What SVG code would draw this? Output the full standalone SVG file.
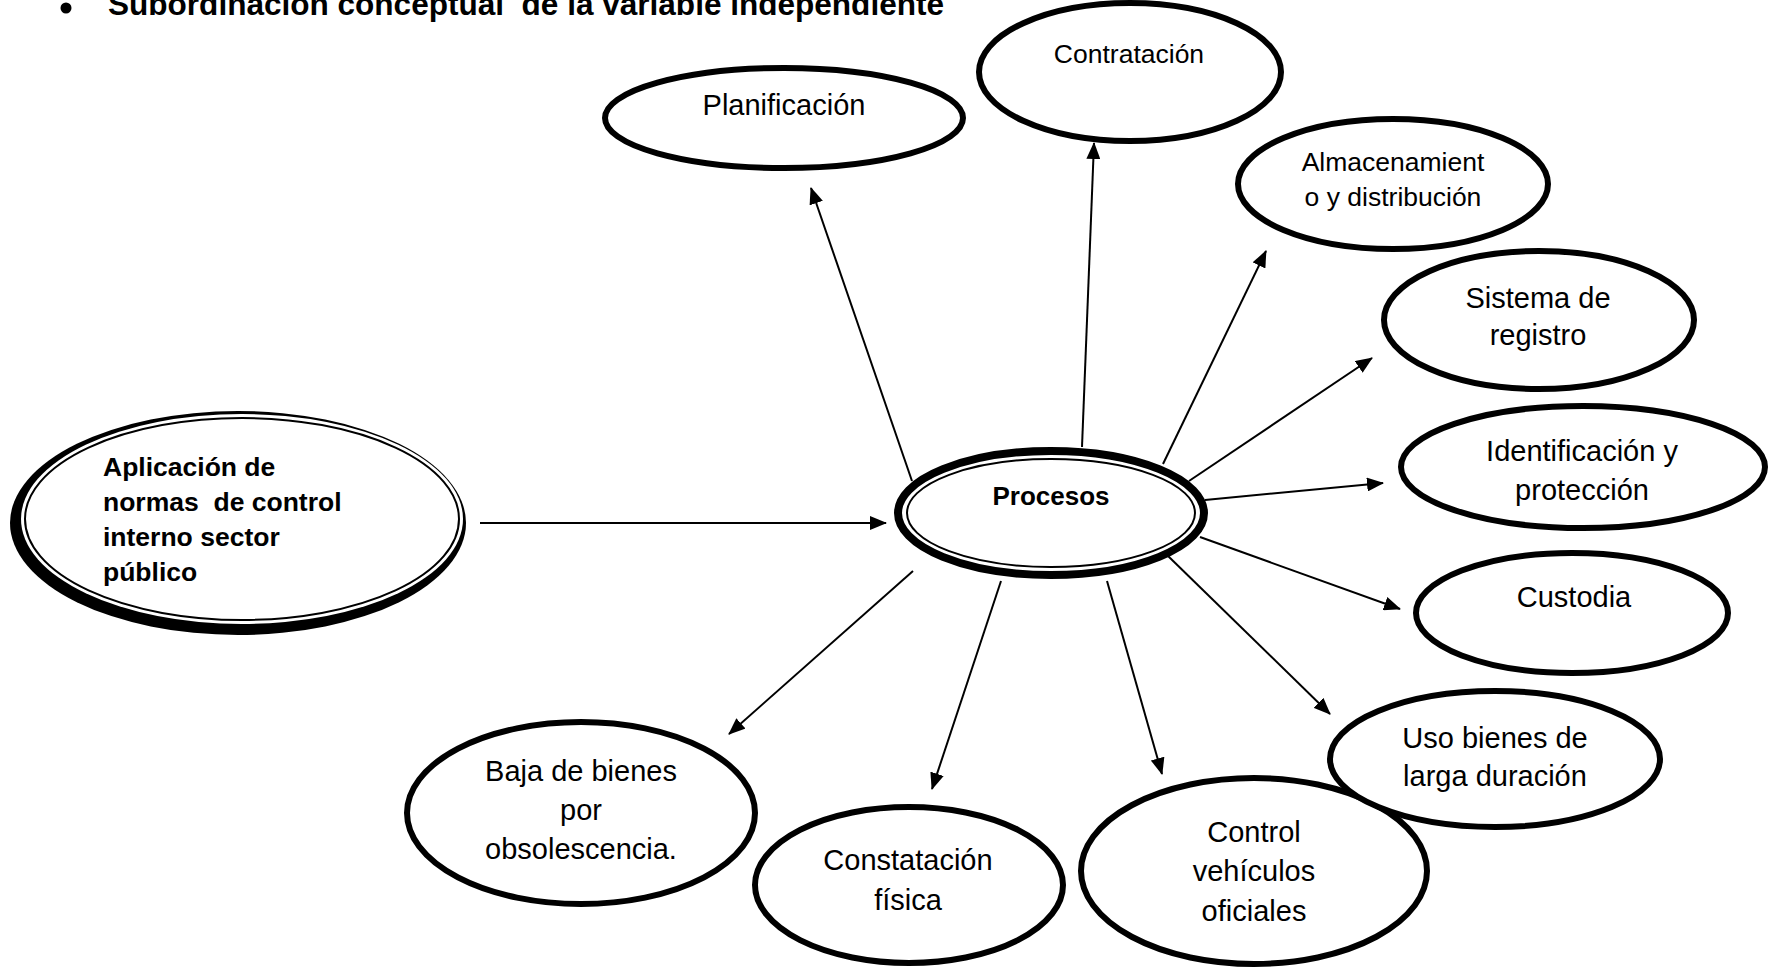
<svg xmlns="http://www.w3.org/2000/svg" width="1776" height="970" viewBox="0 0 1776 970" xml:space="preserve">
  <defs>
    <marker id="arrow" markerUnits="userSpaceOnUse" markerWidth="18" markerHeight="14" refX="16" refY="7" orient="auto">
      <path d="M0,0 L17,7 L0,14 Z" fill="#000"/>
    </marker>
  </defs>
  <style>
    .bg { fill: #fff; }
    .node { fill: #fff; stroke: #000; stroke-width: 6; }
    .thin { fill: none; stroke: #000; stroke-width: 2; }
    .lbl { font-family: "Liberation Sans", Arial, sans-serif; font-size: 29px; fill: #000; text-anchor: middle; white-space: pre; }
    .sm { font-size: 26.5px; }
    .bold { font-weight: bold; }
    .edge { stroke: #000; stroke-width: 2; fill: none; marker-end: url(#arrow); }
  </style>

  <rect class="bg" x="0" y="0" width="1776" height="970"/>

  <!-- heading -->
  <g id="heading">
    <circle cx="66" cy="8" r="5.5" fill="#000"/>
    <text x="108" y="15" style="font-family:'Liberation Sans', Arial, sans-serif; font-size:31px; font-weight:bold; white-space:pre" textLength="836" lengthAdjust="spacingAndGlyphs">Subordinación conceptual  de la variable independiente</text>
  </g>

  <!-- connectors -->
  <g id="connectors">
    <line class="edge" x1="480" y1="523" x2="886" y2="523"/>
    <line class="edge" x1="912" y1="481" x2="811" y2="188"/>
    <line class="edge" x1="1082" y1="447" x2="1094" y2="143"/>
    <line class="edge" x1="1163" y1="464" x2="1266" y2="251"/>
    <line class="edge" x1="1189" y1="481" x2="1372" y2="358"/>
    <line class="edge" x1="1205" y1="500" x2="1383" y2="483"/>
    <line class="edge" x1="1200" y1="537" x2="1400" y2="609"/>
    <line class="edge" x1="1167" y1="555" x2="1330" y2="714"/>
    <line class="edge" x1="1107" y1="581" x2="1162" y2="774"/>
    <line class="edge" x1="1001" y1="581" x2="932" y2="789"/>
    <line class="edge" x1="913" y1="571" x2="729" y2="734"/>
  </g>

  <!-- independent variable -->
  <g id="node-aplicacion">
    <ellipse cx="238" cy="523" rx="228" ry="112" fill="#000"/>
    <ellipse cx="242" cy="519" rx="221" ry="105" fill="#fff"/>
    <ellipse class="thin" cx="242" cy="519" rx="217" ry="101"/>
    <text class="lbl bold" style="text-anchor:start; font-size:26.5px">
      <tspan x="103" y="476">Aplicación de</tspan>
      <tspan x="103" y="511">normas  de control</tspan>
      <tspan x="103" y="546">interno sector</tspan>
      <tspan x="103" y="581">público</tspan>
    </text>
  </g>

  <!-- central node -->
  <g id="node-procesos">
    <ellipse cx="1051" cy="513" rx="153" ry="62" fill="#fff" stroke="#000" stroke-width="8"/>
    <ellipse class="thin" cx="1051" cy="513" rx="144" ry="54"/>
    <text class="lbl bold" x="1051" y="505" style="font-size:26px">Procesos</text>
  </g>

  <g id="node-planificacion">
    <ellipse class="node" cx="784" cy="118" rx="179" ry="50"/>
    <text class="lbl" x="784" y="115">Planificación</text>
  </g>

  <g id="node-contratacion">
    <ellipse class="node" cx="1130" cy="72" rx="151" ry="69"/>
    <text class="lbl sm" x="1129" y="63">Contratación</text>
  </g>

  <g id="node-almacenamiento">
    <ellipse class="node" cx="1393" cy="184" rx="155" ry="65"/>
    <text class="lbl sm"><tspan x="1393" y="171">Almacenamient</tspan><tspan x="1393" y="206">o y distribución</tspan></text>
  </g>

  <g id="node-sistema">
    <ellipse class="node" cx="1539" cy="320" rx="155" ry="69"/>
    <text class="lbl"><tspan x="1538" y="308">Sistema de</tspan><tspan x="1538" y="345">registro</tspan></text>
  </g>

  <g id="node-identificacion">
    <ellipse class="node" cx="1583" cy="467" rx="182" ry="61"/>
    <text class="lbl"><tspan x="1582" y="461">Identificación y</tspan><tspan x="1582" y="500">protección</tspan></text>
  </g>

  <g id="node-custodia">
    <ellipse class="node" cx="1572" cy="613" rx="156" ry="60"/>
    <text class="lbl" x="1574" y="607">Custodia</text>
  </g>

  <g id="node-baja">
    <ellipse class="node" cx="581" cy="813" rx="174" ry="91"/>
    <text class="lbl"><tspan x="581" y="781">Baja de bienes</tspan><tspan x="581" y="820">por</tspan><tspan x="581" y="859">obsolescencia.</tspan></text>
  </g>

  <g id="node-constatacion">
    <ellipse class="node" cx="909" cy="885" rx="154" ry="78"/>
    <text class="lbl"><tspan x="908" y="870">Constatación</tspan><tspan x="908" y="910">física</tspan></text>
  </g>

  <g id="node-control">
    <ellipse class="node" cx="1254" cy="871" rx="173" ry="93"/>
    <text class="lbl"><tspan x="1254" y="842">Control</tspan><tspan x="1254" y="881">vehículos</tspan><tspan x="1254" y="921">oficiales</tspan></text>
  </g>

  <g id="node-uso">
    <ellipse class="node" cx="1495" cy="759" rx="165" ry="68"/>
    <text class="lbl"><tspan x="1495" y="748">Uso bienes de</tspan><tspan x="1495" y="786">larga duración</tspan></text>
  </g>
</svg>
